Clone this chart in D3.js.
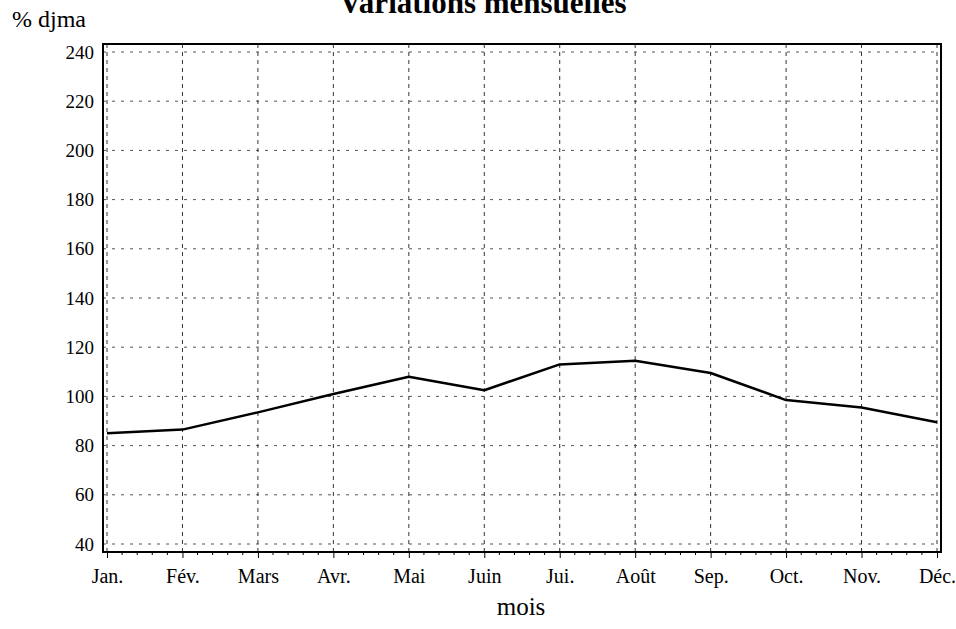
<!DOCTYPE html>
<html><head><meta charset="utf-8">
<script src="https://cdn.jsdelivr.net/npm/d3@7"></script>
<style>body{margin:0;background:#fff}svg{display:block}</style>
</head><body>
<script>
const months = ["Jan.","Fév.","Mars","Avr.","Mai","Juin","Jui.","Août","Sep.","Oct.","Nov.","Déc."];
const values = [85, 86.5, 93.5, 101, 108, 102.5, 113, 114.5, 109.5, 98.5, 95.5, 89.5];
const yTicks = [40,60,80,100,120,140,160,180,200,220,240];
const title = "Variations mensuelles";
const yLabel = "% djma";
const xLabel = "mois";

const W = 956, H = 629;
const svg = d3.select("body").append("svg").attr("width", W).attr("height", H);
const font = "'Liberation Serif','Times New Roman',serif";

const x = d3.scalePoint().domain(months).range([107, 937]);
const y = d3.scaleLinear().domain([40, 240]).range([544, 52]);

const frame = {l:103, t:44, r:941, b:552};

// grid
const g = svg.append("g");
g.selectAll("line.h").data(yTicks).join("line")
  .attr("x1", frame.l).attr("x2", frame.r)
  .attr("y1", d => y(d)).attr("y2", d => y(d))
  .attr("stroke", "#555").attr("stroke-width", 1).attr("stroke-dasharray", "3,6");
g.selectAll("line.v").data(months).join("line")
  .attr("x1", d => x(d)).attr("x2", d => x(d))
  .attr("y1", frame.t).attr("y2", frame.b)
  .attr("stroke", "#333").attr("stroke-width", 1).attr("stroke-dasharray", "4,4");

// minor ticks on x axis (5 subdivisions)
const step = x.step();
const minor = [];
months.forEach((m, i) => { if (i < months.length - 1) for (let k = 1; k < 5; k++) minor.push(x(m) + k * step / 5); });
svg.append("g").selectAll("line").data(minor).join("line")
  .attr("x1", d => d).attr("x2", d => d).attr("y1", frame.b).attr("y2", frame.b + 3)
  .attr("stroke", "#000").attr("stroke-width", 1);

// frame
svg.append("rect").attr("x", frame.l).attr("y", frame.t)
  .attr("width", frame.r - frame.l).attr("height", frame.b - frame.t)
  .attr("fill", "none").attr("stroke", "#000").attr("stroke-width", 2);

// y axis labels
const yAxis = d3.axisLeft(y).tickValues(yTicks).tickSize(0).tickPadding(9);
const ya = svg.append("g").attr("transform", `translate(${frame.l},0)`).call(yAxis);
ya.select(".domain").remove();
ya.selectAll("text").attr("font-family", font).attr("font-size", 19).attr("fill", "#000");

// x axis labels
const xAxis = d3.axisBottom(x).tickSize(6).tickPadding(8);
const xa = svg.append("g").attr("transform", `translate(0,${frame.b})`).call(xAxis);
xa.select(".domain").remove();
xa.selectAll("text").attr("font-family", font).attr("font-size", 20).attr("fill", "#000")
  .attr("y", 31).attr("dy", 0);
xa.selectAll("line").attr("stroke", "#000");

// line
svg.append("path").datum(values)
  .attr("d", d3.line().x((d,i) => x(months[i])).y(d => y(d)))
  .attr("fill", "none").attr("stroke", "#000").attr("stroke-width", 2.5)
  .attr("stroke-linejoin", "round");

// texts
svg.append("text").attr("x", 483).attr("y", 13).attr("text-anchor", "middle")
  .attr("font-family", font).attr("font-weight", "bold").attr("font-size", 31).text(title);
svg.append("text").attr("x", 12).attr("y", 27)
  .attr("font-family", font).attr("font-size", 24).text(yLabel);
svg.append("text").attr("x", 521).attr("y", 615).attr("text-anchor", "middle")
  .attr("font-family", font).attr("font-size", 25).text(xLabel);
</script>
</body></html>
